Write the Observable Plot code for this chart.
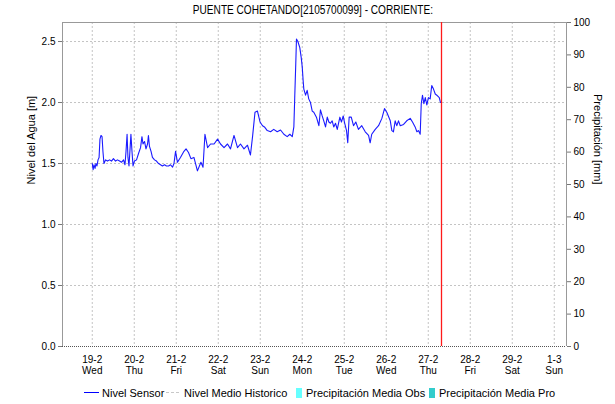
<!DOCTYPE html>
<html>
<head>
<meta charset="utf-8">
<script src="https://cdn.jsdelivr.net/npm/d3@7"></script>
<script src="https://cdn.jsdelivr.net/npm/@observablehq/plot@0.6"></script>
<style>
  html, body { margin: 0; padding: 0; background: #fff; }
  #page { position: relative; width: 615px; height: 404px; font-family: "Liberation Sans", Arial, sans-serif; color: #000; overflow: hidden; }
  #title { position: absolute; left: 0; top: 3px; width: 615px; text-align: center; font-size: 12px; line-height: 14px; }
  #title span { display: inline-block; transform: scaleX(0.84); transform-origin: center; margin-left: 10px; }
  #chart { position: absolute; left: 0; top: 17px; }
  .lg { position: absolute; font-size: 11px; line-height: 12px; top: 387px; white-space: nowrap; }
</style>
</head>
<body>
<div id="page">
  <div id="title"><span>PUENTE COHETANDO[2105700099] - CORRIENTE:</span></div>
  <div id="chart"></div>
  <div id="legend"></div>
</div>
<script>
// ---- data ----
const title = "PUENTE COHETANDO[2105700099] - CORRIENTE:";
const startDay = "2020-02-19"; // hour offsets below are counted from 19-2 00:00
const hoursFromStart = [
  0,0.5,1,1.6,2.1,2.7,3.3,3.9,4.4,5,
  5.6,6.1,6.7,7.6,8.7,9.9,11,12.1,13.3,14.4,
  15.6,16.7,17.9,18.7,19.3,19.9,20.4,21,21.6,22.1,
  22.7,23.3,24.1,25.3,26.4,27.6,28.4,29,29.9,30.7,
  31.6,32.1,32.7,33.6,34.4,35.6,36.7,37.9,39,40.1,
  41.3,42.4,43.6,44.7,45.9,46.7,47.6,48.7,50.4,52.4,
  53.6,55,56.4,58.1,60.1,62.1,63.3,64.4,65.9,67.6,
  69.6,71.6,73.3,75.3,77.3,79,81,83,84.7,86.7,
  88.7,90.4,91.6,93,94.4,95.9,97.3,98.4,100,101.9,
  103.7,105.7,107.6,109.5,111.4,112.9,114.3,115.2,115.7,116.3,
  116.7,117.5,118.6,119.4,120,120.5,120.9,121.9,122.8,123.7,
  124.7,125.7,126.6,128.1,129.5,130.4,131.4,132.3,133.3,134.3,
  135.2,136.1,137.1,138,139,140,141.5,142.4,143.4,144.1,
  145.3,146,146.8,148,149.3,150.6,152.1,154,156,157.9,
  158.8,159.7,161.7,163.6,165.5,167,168.3,170.3,171.2,172.1,
  173.1,174,175,176,177.9,179.7,181.7,183,184.5,185.5,
  186.4,187.4,188,188.7,189.5,190.3,191.2,192.1,193.1,194,
  195,196,196.9,198.3,199
];
const nivelSensor = [
  1.50,1.45,1.49,1.46,1.50,1.48,1.53,1.55,1.70,1.73,
  1.72,1.60,1.50,1.53,1.52,1.53,1.52,1.54,1.52,1.53,
  1.52,1.51,1.53,1.49,1.60,1.74,1.55,1.48,1.62,1.74,
  1.60,1.48,1.52,1.53,1.58,1.63,1.72,1.66,1.68,1.62,
  1.66,1.73,1.64,1.60,1.55,1.53,1.52,1.50,1.49,1.48,
  1.49,1.48,1.48,1.49,1.47,1.50,1.60,1.51,1.55,1.60,
  1.62,1.59,1.54,1.55,1.44,1.51,1.47,1.74,1.63,1.66,
  1.66,1.70,1.66,1.63,1.66,1.62,1.73,1.63,1.66,1.62,
  1.65,1.57,1.72,1.92,1.93,1.84,1.81,1.80,1.77,1.76,
  1.78,1.76,1.775,1.74,1.72,1.74,1.72,1.80,2.04,2.32,
  2.52,2.50,2.45,2.37,2.29,2.18,2.11,2.06,2.10,2.03,
  2.00,1.93,1.92,1.88,1.81,1.94,1.89,1.85,1.80,1.88,
  1.84,1.83,1.85,1.80,1.83,1.78,1.88,1.84,1.89,1.84,
  1.77,1.67,1.88,1.88,1.81,1.84,1.78,1.81,1.76,1.73,
  1.67,1.74,1.78,1.81,1.87,1.95,1.92,1.85,1.77,1.76,
  1.85,1.81,1.85,1.81,1.82,1.85,1.87,1.84,1.80,1.76,
  1.77,1.74,1.99,2.06,1.99,2.04,1.98,2.04,2.03,2.14,
  2.11,2.07,2.06,2.04,2.00
];
const nowHour = 199.57;                // red "current time" line
const xDomain = ["2020-02-18T07:00:00Z", "2020-03-01T07:00:00Z"];
const dayTicks = ["2020-02-19","2020-02-20","2020-02-21","2020-02-22","2020-02-23","2020-02-24",
                  "2020-02-25","2020-02-26","2020-02-27","2020-02-28","2020-02-29","2020-03-01"];
const levelTicks = [0, 0.5, 1.0, 1.5, 2.0, 2.5];
const levelMax = 2.656;
const precipTicks = [0,10,20,30,40,50,60,70,80,90,100];
const precipMax = 100;
const legendItems = [
  {label: "Nivel Sensor", kind: "line", color: "#0000ff"},
  {label: "Nivel Medio Historico", kind: "dash", color: "#c8c8c8"},
  {label: "Precipitación Media Obs", kind: "box", color: "#66ffff"},
  {label: "Precipitación Media Pro", kind: "box", color: "#33cccc"}
];

// ---- build ----
const t0 = Date.parse(startDay + "T00:00:00Z");
const series = hoursFromStart.map((h, i) => ({date: new Date(t0 + h * 3600e3), value: nivelSensor[i]}));
const nowDate = new Date(t0 + nowHour * 3600e3);
const ticksX = dayTicks.map(d => new Date(d + "T00:00:00Z"));
const xd = xDomain.map(d => new Date(d));
const fmtDay = d3.utcFormat("%-d-%-m");
const fmtWd = d3.utcFormat("%a");
const gridStyle = {stroke: "#c4c4c4", strokeDasharray: "2,2", strokeOpacity: 1};

const chart = Plot.plot({
  width: 615,
  height: 360,
  marginTop: 5,
  marginLeft: 62,
  marginRight: 49,
  marginBottom: 31,
  style: {fontFamily: "'Liberation Sans', Arial, sans-serif", background: "#fff", overflow: "visible"},
  x: {type: "utc", domain: xd},
  y: {domain: [0, levelMax]},
  marks: [
    Plot.gridX(ticksX, gridStyle),
    Plot.gridY(levelTicks.filter(v => v > 0), gridStyle),
    Plot.ruleY([0], {stroke: "#555", strokeDasharray: "1,1"}),
    Plot.ruleY([levelMax], {stroke: "#999"}),
    Plot.ruleX([xd[0], xd[1]], {stroke: "#999"}),
    Plot.axisX(ticksX, {tickSize: 0, tickPadding: 8, fontSize: 10, lineHeight: 1.15,
      tickFormat: d => fmtDay(d) + "\n" + fmtWd(d), label: null}),
    Plot.axisY(levelTicks, {tickSize: 4, tickPadding: 3, fontSize: 10, tickFormat: d3.format(".1f"), label: null, stroke: "#777"}),
    Plot.axisY(precipTicks.map(v => v * levelMax / precipMax), {anchor: "right", tickSize: 4, tickPadding: 3, fontSize: 10,
      tickFormat: d => String(Math.round(d / levelMax * precipMax)), label: null, stroke: "#777"}),
    Plot.text(["Nivel del Agua [m]"], {frameAnchor: "left", dx: -31, rotate: -90, fontSize: 11}),
    Plot.text(["Precipitación [mm]"], {frameAnchor: "right", dx: 31, rotate: 90, fontSize: 11}),
    Plot.line(series, {x: "date", y: "value", stroke: "#1a1aff", strokeWidth: 1.1}),
    Plot.ruleX([nowDate], {stroke: "#ff1a1a", strokeWidth: 1.3})
  ]
});
document.getElementById("chart").appendChild(chart);

// legend (HTML, below the svg)
const lgPos = [{x: 84, tx: 102}, {x: 166, tx: 184}, {x: 296, tx: 306}, {x: 429, tx: 439}];
const lg = d3.select("#legend");
legendItems.forEach((it, i) => {
  const p = lgPos[i];
  if (it.kind === "line") {
    lg.append("div").style("position","absolute").style("left", p.x + "px").style("top","392px")
      .style("width","15px").style("height","0").style("border-top","1px solid " + it.color);
  } else if (it.kind === "dash") {
    lg.append("div").style("position","absolute").style("left", p.x + "px").style("top","392px")
      .style("width","13px").style("height","0").style("border-top","1px dashed " + it.color);
  } else {
    lg.append("div").style("position","absolute").style("left", p.x + "px").style("top","388px")
      .style("width","6px").style("height","10px").style("background", it.color);
  }
  lg.append("div").attr("class","lg").style("left", p.tx + "px").text(it.label);
});
</script>
</body>
</html>
